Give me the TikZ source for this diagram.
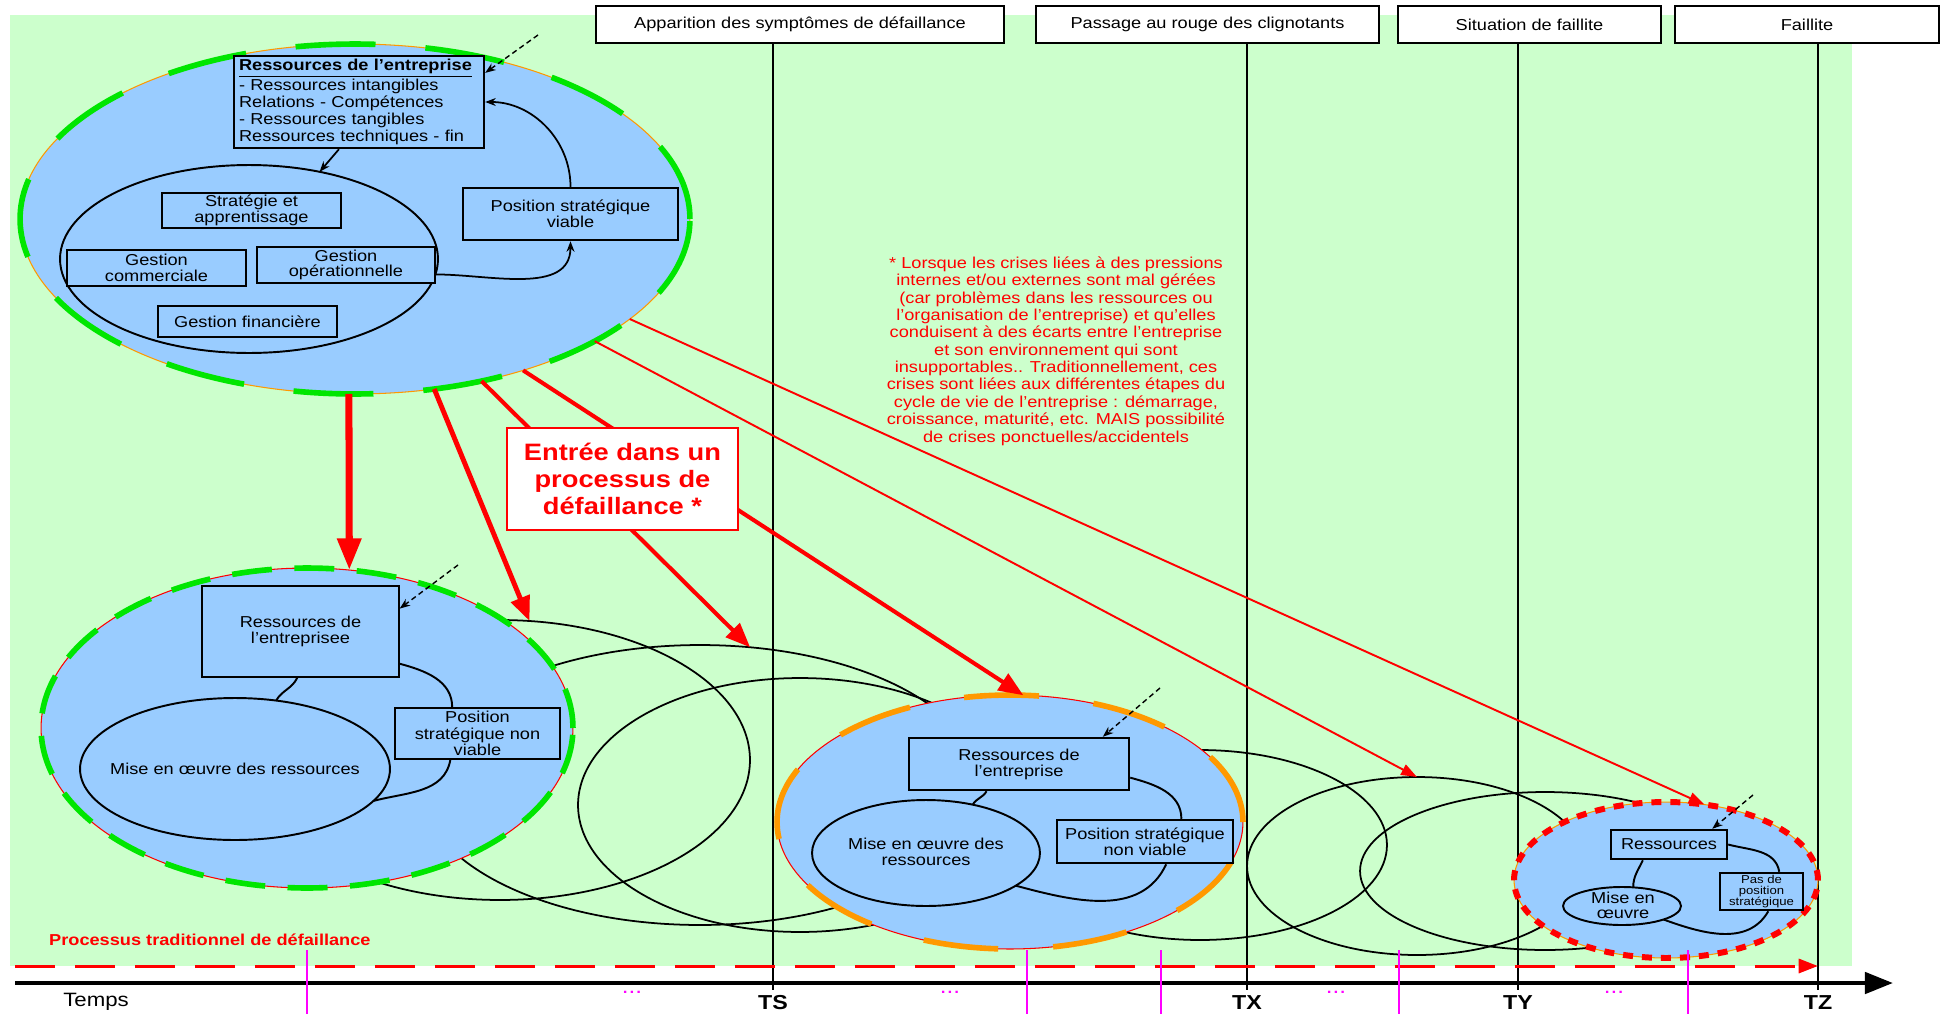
\documentclass[tikz,border=0pt]{standalone}
\usepackage{fontspec}
\setmainfont{Liberation Sans}[FakeStretch=1.15]
\usetikzlibrary{arrows.meta,positioning,shapes.geometric,calc}
\definecolor{bggreen}{RGB}{204,255,204}
\definecolor{cellblue}{RGB}{153,204,255}
\definecolor{dashgreen}{RGB}{0,230,0}
\definecolor{dashorange}{RGB}{255,153,0}
\definecolor{alarmred}{RGB}{255,0,0}
\definecolor{pulsemagenta}{RGB}{255,0,255}

\begin{document}
\begin{tikzpicture}[x=0.02cm, y=-0.02cm,
    txt/.style={font=\fontsize{9}{9.9}\selectfont, align=center, inner sep=0pt},
    hdr/.style={draw, fill=white, line width=0.8pt, inner sep=0pt, minimum height=0.74cm, font=\fontsize{9}{9.9}\selectfont},
    box/.style={draw, line width=#1, fill=cellblue, inner sep=1pt, align=center, font=\fontsize{9}{9}\selectfont},
    box/.default=1pt,
    cell/.style={ellipse, fill=cellblue, inner sep=0pt, outer sep=0pt},
    rim/.style n args={3}{draw=#1, line width=0.6pt, postaction={draw=#2, line width=3.2pt, dash pattern=#3}},
    stage/.style={ellipse, draw, line width=1pt, inner sep=0pt, outer sep=0pt},
    ring/.style={ellipse, draw, line width=1.1pt, inner sep=0pt, outer sep=0pt},
    ptr/.style={densely dashed, line width=0.8pt, -{Stealth[length=6pt, width=4.5pt]}},
    flow/.style={line width=1pt, -{Stealth[length=6pt, width=4.5pt]}},
    link/.style={line width=1.1pt},
    redarr/.style={draw=alarmred, -{Triangle[length=14pt, width=11pt]}},
    thinarr/.style={draw=alarmred, line width=1.1pt, -{Triangle[length=9pt, width=6.5pt]}},
    tlabel/.style={font=\fontsize{11.5}{11.5}\selectfont\bfseries},
    pulse/.style={draw=pulsemagenta, line width=1.4pt}
]
\useasboundingbox (0,0) rectangle (1943,1014);
\fill[white] (0,0) rectangle (1943,1014);
\fill[bggreen] (10,15) rectangle (1852,966);

\node[hdr, minimum width=8.16cm] (app) at (800,24.5) {Apparition des symptômes de défaillance};
\node[hdr, minimum width=6.86cm] (clig) at (1207.5,24.5) {Passage au rouge des clignotants};
\node[hdr, minimum width=5.26cm] (sit) at (1529.5,24.5) {Situation de faillite};
\node[hdr, minimum width=5.28cm] (fail) at (1807,24.5) {Faillite};

\node[font=\fontsize{11}{11}\selectfont] (temps) at (96,1002) {Temps};
\node[tlabel] (ts) at (773,1003) {TS};
\node[tlabel] (tx) at (1247,1003) {TX};
\node[tlabel] (ty) at (1518,1003) {TY};
\node[tlabel] (tz) at (1818,1003) {TZ};

\node[stage, minimum width=10cm, minimum height=5.6cm] (stA) at (500,760) {};
\node[stage, minimum width=11.2cm, minimum height=5.6cm] (stB) at (700,785) {};
\node[stage, minimum width=8.88cm, minimum height=5.08cm] (stC) at (800,805) {};
\node[stage, minimum width=7.48cm, minimum height=3.8cm] (stD) at (1200,845) {};
\node[stage, minimum width=6.8cm, minimum height=3.56cm] (stE) at (1417,866) {};
\node[stage, minimum width=7.4cm, minimum height=3.16cm] (stF) at (1545,871) {};

\draw[line width=1.4pt] (app.south -| ts.north) -- (ts.north);
\draw[line width=0.7pt] (clig.south -| tx.north) -- (tx.north);
\draw[line width=1.4pt] (sit.south -| ty.north) -- (ty.north);
\draw[line width=0.7pt] (fail.south -| tz.north) -- (tz.north);

\coordinate (r0) at (15,966);
\coordinate (r1) at (1818,966);
\draw[draw=alarmred, line width=1.7pt, dash pattern=on 0.8cm off 0.4cm, -{Triangle[length=11pt, width=8pt]}] (r0) -- (r1);
\coordinate (t0) at (15,983);
\coordinate (t1) at (1893,983);
\draw[line width=2.6pt, -{Triangle[length=16pt, width=12pt]}] (t0) -- (t1);

\node[cell, rim={dashorange}{dashgreen}{on 1.6cm off 1cm}, minimum width=13.4cm, minimum height=7cm] (saine) at (355,219) {};
\node[box=1.4pt, font=\fontsize{9}{9.7}\selectfont, text width=4.8cm, align=left, inner xsep=0.1cm, minimum height=1.84cm] (res) at (359,102) {\underline{\textbf{Ressources de l'entreprise}}\\- Ressources intangibles\\Relations - Compétences\\- Ressources tangibles\\Ressources techniques - fin};
\node[ring, minimum width=7.56cm, minimum height=3.76cm] (ops) at (249,259) {};
\node[box, minimum width=3.58cm, minimum height=0.7cm] (strat) at (251.5,210.5) {Stratégie et\\apprentissage};
\node[box, minimum width=3.58cm, minimum height=0.72cm] (comm) at (156.5,268) {Gestion\\commerciale};
\node[box, minimum width=3.56cm, minimum height=0.72cm] (oper) at (346,265) {Gestion\\opérationnelle};
\node[box, minimum width=3.58cm, minimum height=0.62cm] (fina) at (247.5,321.5) {Gestion financière};
\node[box=1.4pt, minimum width=4.3cm, minimum height=1.04cm] (pos) at (570.5,214) {Position stratégique\\viable};
\coordinate (src1) at (538,35);
\draw[ptr] (src1) -- (res.13);
\draw[flow] (res.-113) -- (ops.51);
\draw[flow] (oper.-6) to[out=0, in=-90] (pos.south);
\draw[flow] (pos.north) to[out=90, in=0] (res.east);

\node[cell, rim={alarmred}{dashgreen}{on 0.8cm off 0.45cm}, minimum width=10.64cm, minimum height=6.4cm] (crise1) at (307,728) {};
\node[box=0.8pt, minimum width=3.94cm, minimum height=1.82cm] (resL) at (300.5,631.5) {Ressources de\\l'entreprisee};
\node[ring, minimum width=6.2cm, minimum height=2.84cm] (misL) at (235,769) {};
\node[txt] (misLtxt) at (misL) {Mise en œuvre des ressources};
\node[box=0.8pt, font=\fontsize{9}{9.4}\selectfont, minimum width=3.3cm, minimum height=1.02cm] (posL) at (477.5,733.5) {Position\\stratégique non\\viable};
\coordinate (src2) at (458,565);
\draw[ptr] (src2) -- (resL.13);
\draw[link] (resL.-18) to[out=-15, in=90] (posL.134);
\draw[link] (resL.-94) to[out=-115, in=60] (misL.59);
\draw[link] (posL.-136) to[out=-100, in=15] (misL.-13);

\node[cell, rim={alarmred}{dashorange}{on 1.5cm off 1.1cm}, minimum width=9.32cm, minimum height=5.08cm] (crise2) at (1010,822) {};
\node[box=1.4pt, minimum width=4.4cm, minimum height=1.04cm] (resM) at (1019,764) {Ressources de\\l'entreprise};
\node[ring, minimum width=4.56cm, minimum height=2.12cm] (misM) at (926,853) {};
\node[txt, font=\fontsize{9}{9}\selectfont] (misMtxt) at (926,852) {Mise en œuvre des\\ressources};
\node[box=1.4pt, minimum width=3.52cm, minimum height=0.86cm] (posM) at (1145,841.5) {Position stratégique\\non viable};
\coordinate (src3) at (1160,688);
\draw[ptr] (src3) -- (resM.18);
\draw[link] (resM.-140) to[out=-120, in=60] (misM.46);
\draw[link] (resM.-7) to[out=-15, in=90] (posM.32);
\draw[link] (posM.-47) to[out=-115, in=-15] (misM.-20);

\node[cell, draw=dashorange, line width=0.6pt, postaction={draw=alarmred, line width=3.4pt, dash pattern=on 0.2cm off 0.18cm}, minimum width=6.08cm, minimum height=3.12cm] (crise3) at (1666,880) {};
\node[box=1.4pt, minimum width=2.32cm, minimum height=0.58cm] (resR) at (1669,844.5) {Ressources};
\node[ring, minimum width=2.36cm, minimum height=0.76cm] (misR) at (1622,906) {};
\node[txt, font=\fontsize{9}{8.6}\selectfont] (misRtxt) at (1623,905) {Mise en\\œuvre};
\node[box=1.4pt, font=\fontsize{6.5}{6.5}\selectfont, minimum width=1.66cm, minimum height=0.74cm] (posR) at (1761.5,891.5) {Pas de\\position\\stratégique};
\coordinate (src4) at (1753,795);
\draw[ptr] (src4) -- (resR.20);
\draw[link] (resR.-149) to[out=-115, in=90] (misR.59);
\draw[link] (resR.east) to[out=-15, in=100] (posR.48);
\draw[link] (posR.-71) to[out=-120, in=-20] (misR.-18);

\draw[redarr, line width=4pt, -{Triangle[length=18pt, width=13pt]}] (saine.-92.7) -- (crise1.75);
\draw[redarr, line width=2.8pt] (saine.-65) -- (stA.78);
\draw[redarr, line width=2.3pt] (saine.-52) -- (stB.70);
\draw[redarr, line width=2.3pt] (saine.-42) -- (crise2.84);
\draw[thinarr] (saine.-27) -- (stE.90);
\draw[thinarr] (saine.-20.5) -- (crise3.63);

\node[draw=alarmred, line width=1.2pt, fill=white, text=alarmred, font=\fontsize{13.5}{15.2}\selectfont\bfseries, align=center, minimum width=4.62cm, minimum height=2.04cm] (entree) at (622.5,479) {Entrée dans un\\processus de\\défaillance *};
\node[txt, text=alarmred] (note) at (1056,351) {* Lorsque les crises liées à des pressions\\internes et/ou externes sont mal gérées\\(car problèmes dans les ressources ou\\l'organisation de l'entreprise) et qu'elles\\conduisent à des écarts entre l'entreprise\\et son environnement qui sont\\insupportables.. Traditionnellement, ces\\crises sont liées aux différentes étapes du\\cycle de vie de l'entreprise : démarrage,\\croissance, maturité, etc. MAIS possibilité\\de crises ponctuelles/accidentels};
\node[anchor=west, text=alarmred, font=\fontsize{9}{9}\selectfont\bfseries] (tradlbl) at (43,940) {Processus traditionnel de défaillance};

\foreach \x in {307,1027,1161,1399,1688}
  \draw[pulse] (\x,950) -- (\x,1014);
\foreach \x/\n in {632/d1,950/d2,1336/d3,1614/d4}
  \node[text=pulsemagenta, font=\fontsize{12}{12}\selectfont] (\n) at (\x,992) {...};
\end{tikzpicture}
\end{document}
